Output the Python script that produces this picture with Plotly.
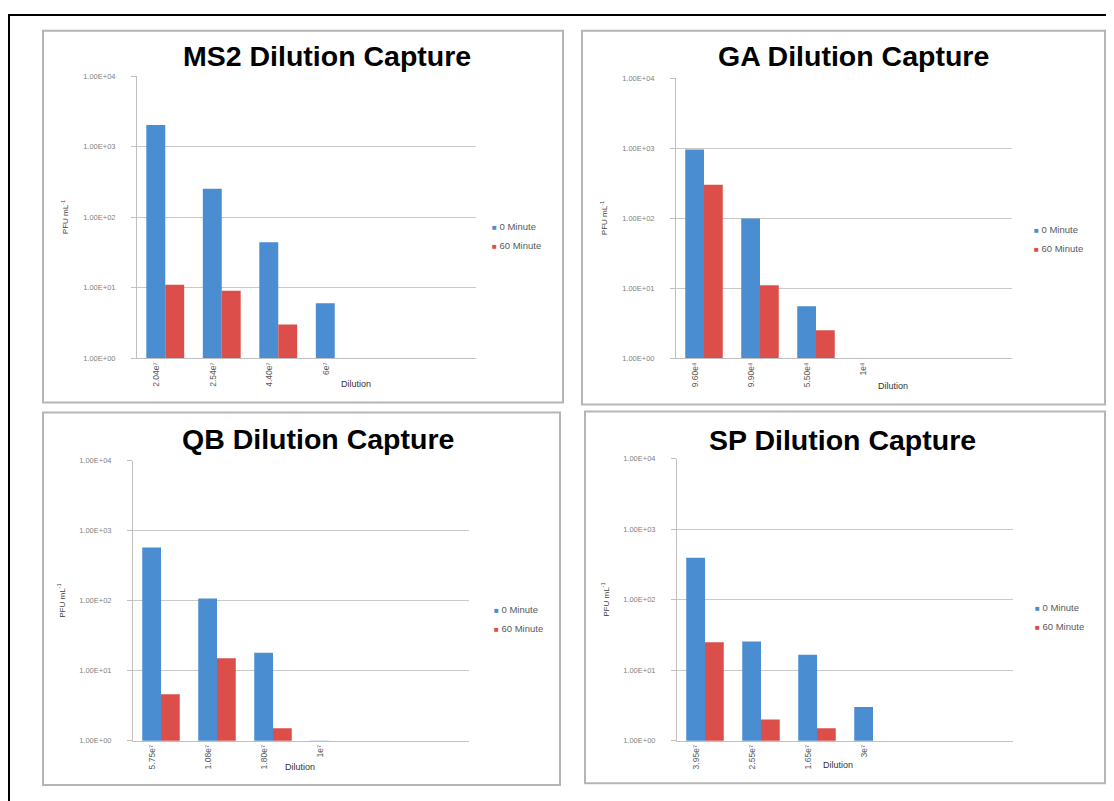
import plotly.graph_objects as go

# ---------------- data ----------------
titles = ["MS2 Dilution Capture", "GA Dilution Capture", "QB Dilution Capture", "SP Dilution Capture"]
series_names = ["0 Minute", "60 Minute"]

ms2_labels = ["2.04e⁷", "2.54e⁷", "4.40e⁷", "6e⁷"]
ms2_0min = [2040, 254, 44, 6]
ms2_60min = [11, 9, 3, None]

ga_labels = ["9.60e⁸", "9.90e⁸", "5.50e⁸", "1e⁸"]
ga_0min = [960, 99, 5.5, 1]
ga_60min = [300, 11, 2.5, None]

qb_labels = ["5.75e⁷", "1.08e⁷", "1.80e⁷", "1e⁷"]
qb_0min = [575, 108, 18, 1]
qb_60min = [4.6, 15, 1.5, None]

sp_labels = ["3.95e⁷", "2.55e⁷", "1.65e⁷", "3e⁷"]
sp_0min = [395, 25.5, 16.5, 3]
sp_60min = [25, 2, 1.5, None]

ytick_vals = [1, 10, 100, 1000, 10000]
ytick_text = ["1.00E+00", "1.00E+01", "1.00E+02", "1.00E+03", "1.00E+04"]
y_title = "PFU mL<sup>-1</sup>"
x_title = "Dilution"
n_slots = 6  # category slots on each x axis (last two empty)

# ---------------- layout geometry (pixels of the 1114x801 window) ----------------
OFF = 8                     # page body margin
W, H = 1114 - OFF, 801 - OFF

panels = [
    dict(border=(43, 27, 563, 403), plot=(137, 73, 476, 358), title=(327, 52),
         legend=(455, 210), dil=(356, 384)),
    dict(border=(582, 27, 1105, 405), plot=(676, 75, 1012, 358), title=(853, 52),
         legend=(997, 213), dil=(893, 386)),
    dict(border=(43, 413, 560, 790), plot=(133, 462, 469, 745), title=(318, 440),
         legend=(457, 597), dil=(300, 772)),
    dict(border=(585, 412, 1105, 788), plot=(677, 460, 1013, 745), title=(843, 441),
         legend=(998, 595), dil=(838, 770)),
]
data = [
    (ms2_labels, ms2_0min, ms2_60min),
    (ga_labels, ga_0min, ga_60min),
    (qb_labels, qb_0min, qb_60min),
    (sp_labels, sp_0min, sp_60min),
]

BLUE = "#4A8DD0"
RED = "#DC4E4A"
GRID = "#C9C9C9"
TXT = "#595959"
FONT = "Liberation Sans"


def px(x):
    return (x - OFF) / W


def py(y):
    return 1 - (y - OFF) / H


fig = go.Figure()
shapes = []
annotations = []

# outer frame
shapes.append(dict(type="rect", xref="paper", yref="paper", x0=px(9), x1=px(1108), y0=py(830), y1=py(11),
                   line=dict(color="black", width=2), fillcolor="rgba(0,0,0,0)", layer="below"))

for i, (p, (labels, v0, v60)) in enumerate(zip(panels, data)):
    n = i + 1
    xa = "x" if n == 1 else f"x{n}"
    ya = "y" if n == 1 else f"y{n}"
    leg = "legend" if n == 1 else f"legend{n}"
    xs = list(range(len(labels)))

    fig.add_trace(go.Bar(x=xs, y=v0, name=series_names[0], marker_color=BLUE, marker_line_width=0,
                         xaxis=xa, yaxis=ya, showlegend=False))
    fig.add_trace(go.Bar(x=xs, y=v60, name=series_names[1], marker_color=RED, marker_line_width=0,
                         xaxis=xa, yaxis=ya, showlegend=False))
    # legend entries: coloured square glyph right next to the text, as in the original
    for name, col in zip(series_names, [BLUE, RED]):
        fig.add_trace(go.Scatter(x=[None], y=[None], mode="markers",
                                 name=f"<span style='color:{col};font-size:8px'>■</span> {name}",
                                 marker=dict(symbol="square", size=1, color="rgba(0,0,0,0)",
                                             line=dict(width=0, color="rgba(0,0,0,0)")),
                                 xaxis=xa, yaxis=ya, legend=leg, showlegend=True, hoverinfo="skip"))

    x0, y0, x1, y1 = p["plot"]
    xkey = "xaxis" if n == 1 else f"xaxis{n}"
    ykey = "yaxis" if n == 1 else f"yaxis{n}"
    fig.update_layout({
        xkey: dict(domain=[px(x0), px(x1)], anchor=ya, range=[-0.5, n_slots - 0.5],
                   tickvals=xs, ticktext=labels, tickangle=-90, ticks="",
                   tickfont=dict(family=FONT, size=8.5, color=TXT), ticklabelshift=-9,
                   showline=True, linecolor="#BFBFBF", linewidth=1, showgrid=False, zeroline=False,
                   fixedrange=True),
        ykey: dict(domain=[py(y1), py(y0)], anchor=xa, type="log", range=[0, 4],
                   tickvals=ytick_vals, ticktext=ytick_text, ticks="outside", ticklen=5,
                   tickcolor="#BFBFBF", ticklabelstandoff=14,
                   tickfont=dict(family=FONT, size=7.5, color="#7F7F7F"),
                   showline=True, linecolor="#BFBFBF", linewidth=1,
                   showgrid=True, gridcolor=GRID, gridwidth=1, zeroline=False, fixedrange=True),
        leg: dict(x=px(p["legend"][0] - 3), y=py(p["legend"][1]), xanchor="left", yanchor="top",
                  font=dict(family=FONT, size=9.5, color=TXT), bgcolor="rgba(0,0,0,0)",
                  itemwidth=30, tracegroupgap=0, itemclick=False, itemdoubleclick=False),
    })

    bx0, by0, bx1, by1 = p["border"]
    shapes.append(dict(type="rect", xref="paper", yref="paper", x0=px(bx0), x1=px(bx1),
                       y0=py(by1), y1=py(by0), line=dict(color="#B5B5B5", width=2),
                       fillcolor="rgba(0,0,0,0)", layer="below"))

    annotations.append(dict(text=titles[i], x=px(p["title"][0]), y=py(p["title"][1]), xref="paper",
                            yref="paper", showarrow=False, xanchor="center", yanchor="middle",
                            font=dict(family=FONT, size=28.5, color="black", weight="bold")))
    annotations.append(dict(text=y_title, x=px(x0 - 72), y=py((y0 + y1) / 2), xref="paper",
                            yref="paper", showarrow=False, textangle=-90, xanchor="center",
                            yanchor="middle", font=dict(family=FONT, size=8, color="#404040")))
    annotations.append(dict(text=x_title, x=px(p["dil"][0]), y=py(p["dil"][1]), xref="paper",
                            yref="paper", showarrow=False, xanchor="center", yanchor="middle",
                            font=dict(family=FONT, size=9, color="#333333")))

fig.update_layout(
    width=W, height=H, margin=dict(l=0, r=0, t=0, b=0),
    paper_bgcolor="white", plot_bgcolor="white",
    barmode="group", bargap=0.33, bargroupgap=0,
    shapes=shapes, annotations=annotations,
    font=dict(family=FONT),
)

fig.write_html("out.html")
